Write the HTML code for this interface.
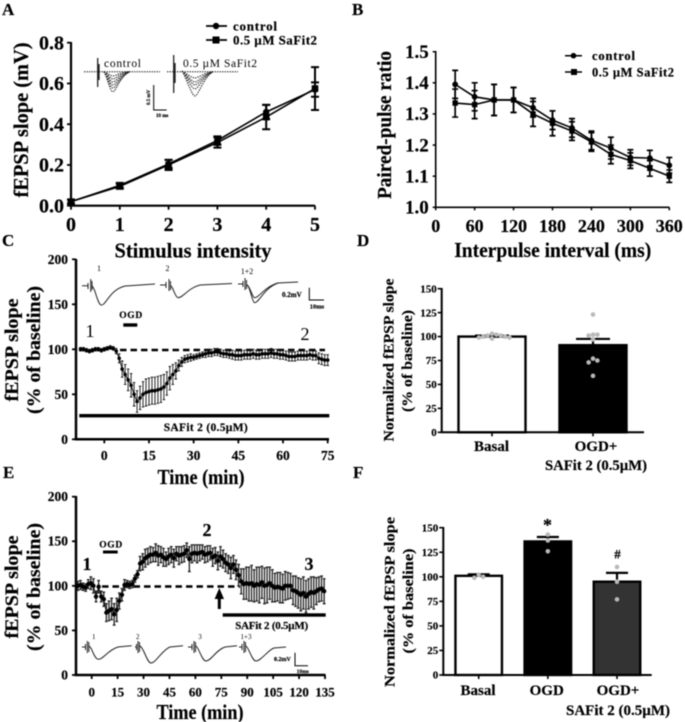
<!DOCTYPE html>
<html lang="en">
<head>
<meta charset="utf-8">
<title>fEPSP recordings with SAFit 2</title>
<style>
html,body{margin:0;padding:0;background:#fff;}
svg{display:block;filter:blur(0.45px);font-family:"Liberation Serif",serif;font-weight:bold;fill:#000;}
svg text{stroke:#000;stroke-width:0.18px;}
.trace{fill:none;stroke:#222;stroke-width:1;}
.dash{fill:none;stroke:#000;stroke-width:1.6;}
svg text.reg{font-weight:normal;stroke:none;}
</style>
</head>
<body>
<svg id="fig" xmlns="http://www.w3.org/2000/svg" width="685" height="722" viewBox="0 0 685 722">
<rect x="0" y="0" width="685" height="722" fill="#fff"/>

<text x="2" y="15" font-size="17">A</text>
<text x="352" y="15" font-size="17">B</text>
<text x="2" y="246" font-size="17">C</text>
<text x="357" y="246" font-size="17">D</text>
<text x="3" y="478" font-size="17">E</text>
<text x="353" y="478" font-size="17">F</text>

<!-- Panel A -->
<g id="panelA">
  <text transform="translate(28,120) rotate(-90)" text-anchor="middle" font-size="21" textLength="155" lengthAdjust="spacingAndGlyphs">fEPSP slope (mV)</text>
  <text x="193" y="257.5" text-anchor="middle" font-size="21" textLength="157" lengthAdjust="spacingAndGlyphs">Stimulus intensity</text>
  <g>
    <path d="M206 26H227" stroke="#000" stroke-width="1.8"/>
    <circle cx="216" cy="26" r="3.2"/>
    <text x="233" y="30.5" font-size="13" textLength="44">control</text>
    <path d="M206 40H227" stroke="#000" stroke-width="1.8"/>
    <rect x="212.5" y="36.5" width="7" height="7"/>
    <text x="233" y="44.5" font-size="13" textLength="84">0.5 µM SaFit2</text>
  </g>
  <g>
    <text class="reg" x="104" y="67" font-size="11.5" textLength="37">control</text>
    <text class="reg" x="183" y="67" font-size="11.5" textLength="74">0.5 µM SaFit2</text>
    <g class="trace" stroke-dasharray="1.5 1" stroke-width="0.7">
      <path d="M84 71.7H160"/>
      <path d="M104 71.7C108 73 110 76 113 76C116 76 120 72 130 71.7"/>
      <path d="M104 71.7C108 74 110 79 113 79C116 79 120 73 130 71.7"/>
      <path d="M104 71.7C108 75 110 82 113 82C116 82 120 74 130 71.7"/>
      <path d="M104 71.7C108 76 110 85 113 85C116 85 120 75 130 71.7"/>
      <path d="M104 71.7C108 78 110 88 113 88C116 88 120 76 130 71.7"/>
      <path d="M104 71.7C108 80 110 91.7 113 91.7C116 91.7 120 76 130 71.7"/>
    </g>
    <path d="M97.7 58V87M99 64V80" stroke="#111" stroke-width="1.2"/>
    <g class="trace" stroke-dasharray="1.5 1" stroke-width="0.7">
      <path d="M167 71.7H238"/>
      <path d="M182 71C187 74 192 78 195 78C198 78 204 73 213 71.7"/>
      <path d="M182 71C187 75 192 82 195 82C198 82 204 74 213 71.7"/>
      <path d="M182 71C187 76 192 85 195 85C198 85 204 75 213 71.7"/>
      <path d="M182 71C187 78 192 89 195 89C198 89 204 76 213 71.7"/>
      <path d="M182 71C187 80 192 96 195 96C198 96 204 77 213 71.7"/>
    </g>
    <path d="M173.7 55V93M175 63V83" stroke="#111" stroke-width="1.2"/>
    <path d="M153.7 85V110H166.7" fill="none" stroke="#000" stroke-width="1"/>
    <text transform="translate(150,105) rotate(-90)" font-size="5">0.5 mV</text>
    <text x="156" y="117" font-size="5">10 ms</text>
  </g>
</g>

<!-- Panel B -->
<g id="panelB">
  <text transform="translate(391,125) rotate(-90)" text-anchor="middle" font-size="20" textLength="148" lengthAdjust="spacingAndGlyphs">Paired-pulse ratio</text>
  <text x="552.7" y="257" text-anchor="middle" font-size="21" textLength="197" lengthAdjust="spacingAndGlyphs">Interpulse interval (ms)</text>
  <g>
    <path d="M565 55.7H582" stroke="#000" stroke-width="1.5"/>
    <circle cx="573.5" cy="55.7" r="2.8"/>
    <text x="592" y="60" font-size="12.5" textLength="43">control</text>
    <path d="M565 72H582" stroke="#000" stroke-width="1.5"/>
    <rect x="571" y="69" width="6" height="6"/>
    <text x="592" y="76.5" font-size="12.5" textLength="82">0.5 µM SaFit2</text>
  </g>
</g>

<!-- Panel C -->
<g id="panelC">
  <text transform="translate(18,350) rotate(-90)" text-anchor="middle" font-size="19" textLength="103" lengthAdjust="spacingAndGlyphs">fEPSP slope</text>
  <text transform="translate(40,350) rotate(-90)" text-anchor="middle" font-size="19" textLength="128" lengthAdjust="spacingAndGlyphs">(% of baseline)</text>
  <text x="201" y="484" text-anchor="middle" font-size="21" textLength="87" lengthAdjust="spacingAndGlyphs">Time (min)</text>
  <g>
    <path class="trace" d="M82 285.7H88M88 283V289M90.7 279V292M92 281V290M92 286C95 287 97 303 101 305C106 306 109 290 125 286L155 284"/>
    <path class="trace" d="M160 285H166M166 282V288M169 279V291M170.5 281V290M171 286C173 287 175 297 178 297.7C183 298 188 288 200 285L232 283.5"/>
    <path class="trace" d="M238 284H243M243 281V287M245 278V290M246.5 280V289M247 285C250 286 252 302 254.5 302.7C259 303 264 288 278 283L298 282"/>
    <path class="trace" d="M247 285C250 286 252 297 254.5 297.7C259 298 264 287 278 283" stroke-width="0.8"/>
    <text class="reg" x="99" y="271" font-size="8" text-anchor="middle">1</text>
    <text class="reg" x="167.5" y="271" font-size="8" text-anchor="middle">2</text>
    <text class="reg" x="247" y="274" font-size="8" text-anchor="middle">1+2</text>
    <text x="282" y="297" font-size="7">0.2mV</text>
    <path d="M309.3 287.7V300H324" fill="none" stroke="#000" stroke-width="1"/>
    <text x="317" y="308.5" font-size="6.5" text-anchor="middle">10ms</text>
  </g>
  <text x="130.7" y="318" font-size="9.5" text-anchor="middle" textLength="23">OGD</text>
  <rect x="123.3" y="323.3" width="14" height="3.4"/>
  <text class="reg" x="90" y="337" font-size="18" text-anchor="middle">1</text>
  <text class="reg" x="305" y="340" font-size="18" text-anchor="middle">2</text>
  <path d="M120 350H325" fill="none" stroke="#000" stroke-width="2.4" stroke-dasharray="6.5 4"/>
  <rect x="79.3" y="414" width="250" height="3.4"/>
  <text x="205.7" y="431" font-size="11.5" text-anchor="middle" textLength="84">SAFit 2 (0.5µM)</text>
</g>

<!-- Panel D -->
<g id="panelD">
  <text transform="translate(393.5,360) rotate(-90)" text-anchor="middle" font-size="14.5" textLength="163" lengthAdjust="spacingAndGlyphs">Normalized fEPSP slope</text>
  <text transform="translate(412,361) rotate(-90)" text-anchor="middle" font-size="14.5" textLength="102" lengthAdjust="spacingAndGlyphs">(% of baseline)</text>
  <text x="596" y="470" text-anchor="middle" font-size="15" textLength="102" lengthAdjust="spacingAndGlyphs">SAFit 2 (0.5µM)</text>
</g>

<!-- Panel E -->
<g id="panelE">
  <text transform="translate(18,587) rotate(-90)" text-anchor="middle" font-size="19" textLength="103" lengthAdjust="spacingAndGlyphs">fEPSP slope</text>
  <text transform="translate(40,587) rotate(-90)" text-anchor="middle" font-size="19" textLength="128" lengthAdjust="spacingAndGlyphs">(% of baseline)</text>
  <text x="200" y="719" text-anchor="middle" font-size="21" textLength="87" lengthAdjust="spacingAndGlyphs">Time (min)</text>
  <g>
    <path class="trace" d="M82 647H86M85.5 644V650M87.3 641V653M88.8 642V652M89 646C92 647 94 659 98.3 659.3C103 659.5 108 650 118 647L131.7 645.7"/>
    <path class="trace" d="M135 647H137M136.5 644V650M138 641V653M139.5 642V652M140 646C144 648 147 663 151 663C156 663 162 650 170 647L183 645.7"/>
    <path class="trace" d="M188 647H192M192 644V650M194 641V653M195.5 642V652M196 646C199 648 202 661 206 661C211 661 216 650 225 647L237 645.7"/>
    <path class="trace" d="M239 647H242M242 644V650M244 641V653M245.5 642V652M246 646C249 648 252 661 256 661C261 661 268 650 274 648L286 647" stroke-width="1.3"/>
    <text class="reg" x="93.7" y="639" font-size="7" text-anchor="middle">1</text>
    <text class="reg" x="137.7" y="639" font-size="7" text-anchor="middle">2</text>
    <text class="reg" x="200" y="639" font-size="7" text-anchor="middle">3</text>
    <text class="reg" x="246" y="639" font-size="7" text-anchor="middle">1+3</text>
    <text x="274" y="661" font-size="6">0.2mV</text>
    <path d="M295 652.7V665.7H308" fill="none" stroke="#000" stroke-width="1"/>
    <text x="302.7" y="673" font-size="5.5" text-anchor="middle">10ms</text>
  </g>
  <text x="110.7" y="547.5" font-size="9.5" text-anchor="middle" textLength="23">OGD</text>
  <rect x="103" y="550.5" width="14.7" height="3"/>
  <text x="87" y="570" font-size="18" text-anchor="middle">1</text>
  <text x="207" y="536" font-size="18" text-anchor="middle">2</text>
  <text x="309" y="570" font-size="18" text-anchor="middle">3</text>
  <path d="M102 586.5H240" fill="none" stroke="#000" stroke-width="2.4" stroke-dasharray="6.5 4"/>
  <path d="M219.3 588L224 599H220.8V609H217.8V599H214.6Z"/>
  <rect x="222.7" y="613.3" width="103" height="3.4"/>
  <text x="271.7" y="629" font-size="11" text-anchor="middle" textLength="73">SAFit 2 (0.5µM)</text>
</g>

<!-- Panel F -->
<g id="panelF">
  <text transform="translate(394.5,602) rotate(-90)" text-anchor="middle" font-size="15" textLength="170" lengthAdjust="spacingAndGlyphs">Normalized fEPSP slope</text>
  <text transform="translate(413,601) rotate(-90)" text-anchor="middle" font-size="15" textLength="105" lengthAdjust="spacingAndGlyphs">(% of baseline)</text>
  <text x="618" y="715" text-anchor="middle" font-size="15" textLength="104" lengthAdjust="spacingAndGlyphs">SAFit 2 (0.5µM)</text>
  <text x="547.5" y="531" text-anchor="middle" font-size="18">*</text>
  <text x="617.5" y="558.5" text-anchor="middle" font-size="13">#</text>
</g>
</svg>

<script>
// ---------- Panel A data ----------
var aX = [0, 1, 2, 3, 4, 5];
var aControl = [0.02, 0.10, 0.205, 0.32, 0.46, 0.57];
var aControlErr = [0.01, 0.012, 0.02, 0.02, 0.035, 0.035];
var aSafit = [0.02, 0.095, 0.20, 0.31, 0.435, 0.575];
var aSafitErr = [0.01, 0.012, 0.025, 0.025, 0.06, 0.105];
var aXTicks = ["0", "1", "2", "3", "4", "5"];
var aYTicks = ["0.0", "0.2", "0.4", "0.6", "0.8"];

// ---------- Panel B data ----------
var bX = [30, 60, 90, 120, 150, 180, 210, 240, 270, 300, 330, 360];
var bControl = [1.395, 1.355, 1.345, 1.345, 1.32, 1.28, 1.255, 1.215, 1.19, 1.16, 1.158, 1.135];
var bControlErr = [0.045, 0.045, 0.05, 0.04, 0.03, 0.03, 0.03, 0.03, 0.035, 0.025, 0.025, 0.025];
var bSafit = [1.335, 1.33, 1.345, 1.345, 1.30, 1.27, 1.245, 1.21, 1.17, 1.15, 1.125, 1.10];
var bSafitErr = [0.045, 0.045, 0.05, 0.04, 0.04, 0.04, 0.03, 0.03, 0.03, 0.025, 0.025, 0.02];
var bXTicks = ["0", "60", "120", "180", "240", "300", "360"];
var bYTicks = ["1.0", "1.1", "1.2", "1.3", "1.4", "1.5"];

// ---------- Panel C data (one reading per minute, from minute -8) ----------
var cStartMinute = -8;
var cMinuteStep = 1;
var cSlope = [100,100,99,98,99,100,100,99,100,101,102,101,98,90,78,72,66,60,50,42,46,50,52,53,54,54,55,56,58,62,68,72,76,82,86,89,90,91,91,92,93,94,95,96,96,97,97,96,95,95,94,94,93,93,93,94,94,94,95,94,94,95,95,95,96,95,95,94,94,93,92,92,92,93,93,93,93,94,93,93,90,89,88,88];
var cSlopeErr = [2,2,2,2,2,2,2,2,2,2,2,2,3,5,9,11,12,13,13,12,13,14,15,15,15,15,15,15,14,13,13,11,9,6,5,4,4,4,3,3,3,3,4,4,4,4,4,4,4,4,4,5,5,5,5,5,5,5,5,5,5,5,5,5,5,5,5,5,5,5,5,5,5,5,5,5,5,5,5,5,6,6,6,6];
var cXTicks = ["0", "15", "30", "45", "60", "75"];
var cYTicks = ["0", "50", "100", "150", "200"];

// ---------- Panel D data ----------
var dCategories = ["Basal", "OGD+"];
var dMeans = [100, 91];
var dErrs = [1, 6.5];
var dBasalDots = [100, 101, 99, 98, 103, 99, 100, 101, 102];
var dOgdDots = [123, 102, 101, 102, 97, 77, 75, 73, 59];
var dYTicks = ["0", "25", "50", "75", "100", "125", "150"];

// ---------- Panel E data (one reading per 1.5 minutes, from minute -8) ----------
var eStartMinute = -8;
var eMinuteStep = 1.5;
var eSlope = [100,101,99,98,102,103,100,88,99,88,85,70,72,74,68,73,83,90,101,102,101,102,108,113,125,127,131,133,135,135,137,134,135,132,130,133,135,131,136,134,135,136,140,130,136,137,136,137,138,135,136,137,132,134,128,133,130,126,124,120,124,118,112,105,102,103,102,103,100,102,101,104,100,101,103,100,98,99,98,97,100,100,100,95,94,92,90,92,88,91,93,92,94,96,97,94];
var eSlopeErr = [5,5,4,4,5,7,8,6,7,6,8,10,11,12,12,13,9,7,6,4,4,4,4,4,8,9,10,9,9,8,10,11,9,10,8,9,9,10,8,10,9,9,8,14,10,9,10,9,8,9,9,8,10,9,10,11,10,10,10,12,10,11,12,14,17,18,19,20,18,19,20,18,20,20,18,18,16,16,17,16,16,15,14,16,17,17,18,18,18,17,17,18,15,14,14,14];
var eXTicks = ["0", "15", "30", "45", "60", "75", "90", "105", "120", "135"];
var eYTicks = ["0", "50", "100", "150", "200"];

// ---------- Panel F data ----------
var fCategories = ["Basal", "OGD", "OGD+"];
var fMeans = [101, 136, 95];
var fErrs = [1.5, 4.5, 9];
var fBasalDots = [102, 99, 100];
var fOgdDots = [143, 137, 126];
var fOgdSafitDots = [110, 95, 77];
var fYTicks = ["0", "25", "50", "75", "100", "125", "150"];

// ---------- helpers ----------
var NS = "http://www.w3.org/2000/svg";
function linear(d0, d1, r0, r1) {
  return function (v) { return r0 + (v - d0) * (r1 - r0) / (d1 - d0); };
}
function make(parent, tag, props) {
  var el = document.createElementNS(NS, tag);
  for (var k in props) { el.setAttribute(k, props[k]); }
  parent.appendChild(el);
  return el;
}
function drawAxes(g, o) {
  var yAxis = make(g, "path", { d: "M" + o.axisX + " " + o.topY + "V" + o.axisY, stroke: "#000", "stroke-width": o.axisW, fill: "none" });
  
  
  var xAxis = make(g, "path", { d: "M" + (o.axisX - o.axisW / 2) + " " + o.axisY + "H" + o.rightX, stroke: "#000", "stroke-width": o.axisW, fill: "none" });
  
  
  o.yTicks.forEach(function (label) {
    var y = o.sy(parseFloat(label));
    var tick = make(g, "path", { d: "M" + (o.axisX - o.tickLen) + " " + y + "H" + o.axisX, stroke: "#000", "stroke-width": o.tickW });
    
    
    var txt = make(g, "text", { x: o.axisX - o.yLabelGap, y: y + o.yFont * 0.33, "text-anchor": "end", "font-size": o.yFont });
    txt.textContent = label;
    
    
  });
  (o.xTicks || []).forEach(function (label) {
    var x = o.sx(parseFloat(label));
    var tick = make(g, "path", { d: "M" + x + " " + o.axisY + "v" + o.tickLen, stroke: "#000", "stroke-width": o.tickW });
    
    
    var txt = make(g, "text", { x: x, y: o.xLabelY, "text-anchor": "middle", "font-size": o.xFont });
    txt.textContent = label;
    
    
  });
}
function drawSeries(g, xs, ys, errs, sx, sy, o) {
  var pts = xs.map(function (x, i) { return sx(x) + "," + sy(ys[i]); }).join(" ");
  var line = make(g, "polyline", { points: pts, fill: "none", stroke: "#000", "stroke-width": o.lineW });
  
  
  xs.forEach(function (x, i) {
    var px = sx(x), hi = sy(ys[i] + errs[i]), lo = sy(ys[i] - errs[i]), c = o.cap;
    var bar = make(g, "path", { d: "M" + px + " " + hi + "V" + lo + "M" + (px - c) + " " + hi + "h" + 2 * c + "M" + (px - c) + " " + lo + "h" + 2 * c, stroke: o.errColor || "#000", "stroke-width": o.errW, fill: "none" });
    
    
    var mark;
    if (o.square) {
      mark = make(g, "rect", { x: px - o.size, y: sy(ys[i]) - o.size, width: 2 * o.size, height: 2 * o.size });
    } else {
      mark = make(g, "circle", { cx: px, cy: sy(ys[i]), r: o.size });
    }
    
    
  });
}
function minutes(n, start, step) {
  var out = [];
  for (var i = 0; i < n; i++) { out.push(start + i * step); }
  return out;
}
function drawBars(g, o) {
  o.means.forEach(function (m, i) {
    var cx = o.sx(i), top = o.sy(m), w = o.barW;
    var bar = make(g, "rect", { x: cx - w / 2, y: top, width: w, height: o.sy(0) - top, fill: o.fills[i], stroke: "#000", "stroke-width": 2.4 });
    
    
    var e = o.sy(m + o.errs[i]);
    var err = make(g, "path", { d: "M" + cx + " " + top + "V" + e + "M" + (cx - o.cap) + " " + e + "h" + 2 * o.cap, stroke: "#000", "stroke-width": 2.2, fill: "none" });
    
    
    var tick = make(g, "path", { d: "M" + cx + " " + o.sy(0) + "v4", stroke: "#000", "stroke-width": 1.6 });
    
    
    var label = make(g, "text", { x: o.labelX(i), y: o.labelY, "text-anchor": "middle", "font-size": o.labelFont });
    label.textContent = o.categories[i];
    
    
    // simple swarm: shift a dot sideways until it clears the ones already placed
    var placed = [];
    o.dots[i].slice().sort(function (a, b) { return b - a; }).forEach(function (v) {
      var py = o.sy(v), off = 0, step = 0;
      while (placed.some(function (p) { return Math.hypot(p[0] - off, p[1] - py) < o.dotR * 1.9; })) {
        step++;
        off = (step % 2 ? 1 : -1) * Math.ceil(step / 2) * o.dotR * 1.9;
      }
      placed.push([off, py]);
      var dot = make(g, "circle", { cx: cx + off, cy: py, r: o.dotR, fill: "#b9b9b9" });
      
      
    });
  });
}

// ---------- Panel A ----------
(function () {
  var g = document.getElementById("panelA");
  var sx = linear(0, 5, 71, 315), sy = linear(0, 0.8, 205.7, 42.7);
  drawAxes(g, { sx: sx, sy: sy, xTicks: aXTicks, yTicks: aYTicks, axisX: 71, axisY: 205.7, topY: 42, rightX: 315, axisW: 2.2, tickW: 1.8, tickLen: 4, yLabelGap: 7, yFont: 20, xFont: 20, xLabelY: 231 });
  drawSeries(g, aX, aControl, aControlErr, sx, sy, { lineW: 1.6, cap: 4, errW: 2, size: 3.2 });
  drawSeries(g, aX, aSafit, aSafitErr, sx, sy, { lineW: 1.6, cap: 4, errW: 2, size: 3.3, square: true });
})();

// ---------- Panel B ----------
(function () {
  var g = document.getElementById("panelB");
  var sx = linear(0, 360, 435.7, 669.3), sy = linear(1, 1.5, 207.3, 51.7);
  drawAxes(g, { sx: sx, sy: sy, xTicks: bXTicks, yTicks: bYTicks, axisX: 435.7, axisY: 207.3, topY: 51, rightX: 669.3, axisW: 1.6, tickW: 1.5, tickLen: 3, yLabelGap: 7, yFont: 19, xFont: 18, xLabelY: 232 });
  drawSeries(g, bX, bControl, bControlErr, sx, sy, { lineW: 1.6, cap: 3, errW: 1.7, size: 2.9 });
  drawSeries(g, bX, bSafit, bSafitErr, sx, sy, { lineW: 1.6, cap: 3, errW: 1.7, size: 2.7, square: true });
})();

// ---------- Panel C ----------
(function () {
  var g = document.getElementById("panelC");
  var sx = linear(0, 75, 104.3, 327.7), sy = linear(0, 200, 439.3, 259.3);
  drawAxes(g, { sx: sx, sy: sy, xTicks: cXTicks, yTicks: cYTicks, axisX: 76, axisY: 439.3, topY: 259, rightX: 329, axisW: 2.5, tickW: 1.8, tickLen: 4, yLabelGap: 8, yFont: 13.5, xFont: 13.5, xLabelY: 460 });
  drawSeries(g, minutes(cSlope.length, cStartMinute, cMinuteStep), cSlope, cSlopeErr, sx, sy, { lineW: 0.9, cap: 1.3, errW: 0.9, errColor: "#111", size: 1.8 });
})();

// ---------- Panel D ----------
(function () {
  var g = document.getElementById("panelD");
  var sy = linear(0, 150, 432.3, 288.7), sx = linear(0, 1, 492, 593);
  drawAxes(g, { sy: sy, yTicks: dYTicks, axisX: 441.7, axisY: 432.3, topY: 288, rightX: 644, axisW: 2, tickW: 1.6, tickLen: 4, yLabelGap: 5, yFont: 11 });
  drawBars(g, { means: dMeans, errs: dErrs, dots: [dBasalDots, dOgdDots], categories: dCategories, fills: ["#fff", "#000"], sx: sx, sy: sy, barW: 67, cap: 17, dotR: 2.3, labelX: function (i) { return i ? 596 : 491.5; }, labelY: 451, labelFont: 15 });
})();

// ---------- Panel E ----------
(function () {
  var g = document.getElementById("panelE");
  var sx = linear(0, 135, 91.7, 325), sy = linear(0, 200, 675, 496.7);
  drawAxes(g, { sx: sx, sy: sy, xTicks: eXTicks, yTicks: eYTicks, axisX: 76, axisY: 675, topY: 496, rightX: 325.5, axisW: 2.5, tickW: 1.8, tickLen: 4, yLabelGap: 8, yFont: 13.5, xFont: 13, xLabelY: 696.5 });
  drawSeries(g, minutes(eSlope.length, eStartMinute, eMinuteStep), eSlope, eSlopeErr, sx, sy, { lineW: 0.9, cap: 1.4, errW: 1.3, errColor: "#222", size: 2.2 });
})();

// ---------- Panel F ----------
(function () {
  var g = document.getElementById("panelF");
  var sy = linear(0, 150, 675, 527.7), sx = linear(0, 2, 478.7, 617);
  drawAxes(g, { sy: sy, yTicks: fYTicks, axisX: 443.3, axisY: 675, topY: 527, rightX: 651.7, axisW: 2, tickW: 1.6, tickLen: 4, yLabelGap: 5, yFont: 11 });
  drawBars(g, { means: fMeans, errs: fErrs, dots: [fBasalDots, fOgdDots, fOgdSafitDots], categories: fCategories, fills: ["#fff", "#000", "#333"], sx: sx, sy: sy, barW: 46.5, cap: 11, dotR: 2.3, labelX: function (i) { return [478, 546.7, 618][i]; }, labelY: 695, labelFont: 15 });
})();
</script>
</body>
</html>
